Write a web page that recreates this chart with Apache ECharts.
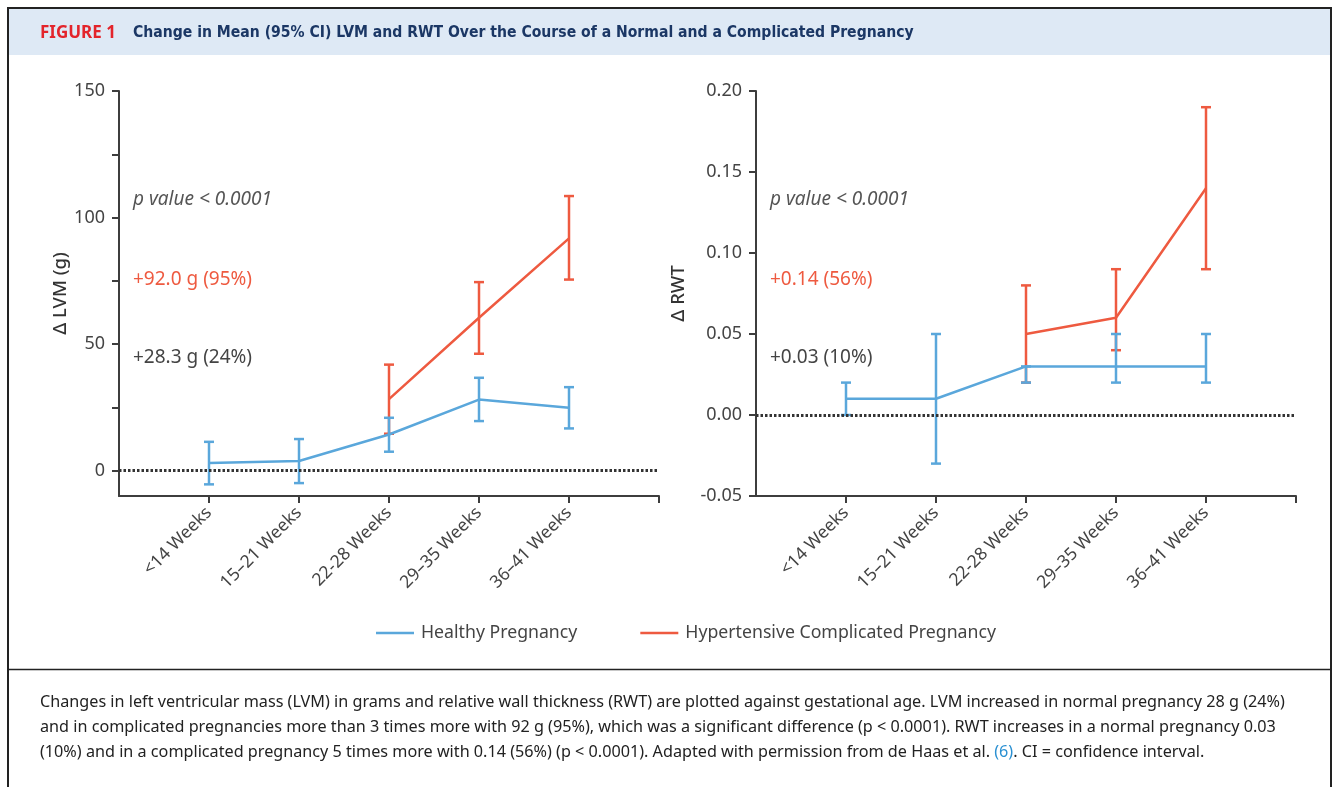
<!DOCTYPE html>
<html><head><meta charset="utf-8">
<script src="https://cdn.jsdelivr.net/npm/echarts@6/dist/echarts.min.js"></script>
<style>html,body{margin:0;padding:0;background:#fff}#c{width:1336px;height:787px}</style>
</head><body><div id="c"></div><script>
// ---- data ----
const categories = ['<14 Weeks', '15–21 Weeks', '22-28 Weeks', '29–35 Weeks', '36–41 Weeks'];
const lvmHealthyMean = [3.0, 3.8, 14.3, 28.1, 24.9];
const lvmHealthyLow  = [-5.4, -4.9, 7.5, 19.6, 16.7];
const lvmHealthyHigh = [11.4, 12.5, 20.9, 36.7, 33.0];
const lvmHyperMean = [null, null, 28.3, 60.4, 91.8];
const lvmHyperLow  = [null, null, 14.6, 46.2, 75.5];
const lvmHyperHigh = [null, null, 41.9, 74.5, 108.5];
const rwtHealthyMean = [0.01, 0.01, 0.03, 0.03, 0.03];
const rwtHealthyLow  = [0.00, -0.03, 0.02, 0.02, 0.02];
const rwtHealthyHigh = [0.02, 0.05, 0.03, 0.05, 0.05];
const rwtHyperMean = [null, null, 0.05, 0.06, 0.14];
const rwtHyperLow  = [null, null, 0.02, 0.04, 0.09];
const rwtHyperHigh = [null, null, 0.08, 0.09, 0.19];
const lvmTickValues = [0, 25, 50, 75, 100, 125, 150];
const lvmLabelValues = [0, 50, 100, 150];
const rwtTickLabels = ['-0.05', '0.00', '0.05', '0.10', '0.15', '0.20'];
const seriesNames = ['Healthy Pregnancy', 'Hypertensive Complicated Pregnancy'];
const annotLeft = ['p value < 0.0001', '+92.0 g (95%)', '+28.3 g (24%)'];
const annotRight = ['p value < 0.0001', '+0.14 (56%)', '+0.03 (10%)'];
const titleTag = 'FIGURE 1';
const titleText = 'Change in Mean (95% CI) LVM and RWT Over the Course of a Normal and a Complicated Pregnancy';
const captionLines = [
  'Changes in left ventricular mass (LVM) in grams and relative wall thickness (RWT) are plotted against gestational age. LVM increased in normal pregnancy 28 g (24%)',
  'and in complicated pregnancies more than 3 times more with 92 g (95%), which was a significant difference (p < 0.0001). RWT increases in a normal pregnancy 0.03',
  ['(10%) and in a complicated pregnancy 5 times more with 0.14 (56%) (p < 0.0001). Adapted with permission from de Haas et al. ', '(6)', '. CI = confidence interval.']
];

// ---- style ----
const BLUE = '#5aa7db', RED = '#ee5a40', AX = '#3d3d3d', TXT = '#444';
const FONT = '"Noto Sans", "Open Sans", sans-serif';

function pts(mean) { const o = []; mean.forEach((v, i) => { if (v !== null) o.push([i + 1, v]); }); return o; }
function errs(lo, hi) { const o = []; lo.forEach((v, i) => { if (v !== null) o.push([i + 1, v, hi[i]]); }); return o; }
function errRender(params, api) {
  const x = api.value(0), lo = api.value(1), hi = api.value(2);
  const a = api.coord([x, lo]), b = api.coord([x, hi]);
  const hw = 5;
  const st = { stroke: api.visual('color'), lineWidth: 2.5 };
  return { type: 'group', children: [
    { type: 'line', shape: { x1: a[0], y1: a[1], x2: b[0], y2: b[1] }, style: st },
    { type: 'line', shape: { x1: a[0] - hw, y1: a[1], x2: a[0] + hw, y2: a[1] }, style: st },
    { type: 'line', shape: { x1: b[0] - hw, y1: b[1], x2: b[0] + hw, y2: b[1] }, style: st }
  ]};
}
function xAxisFor(gi) {
  return {
    type: 'value', gridIndex: gi, min: 0, max: 6, interval: 1,
    axisLine: { show: true, onZero: false, lineStyle: { color: AX, width: 2 } },
    axisTick: { show: true, length: 7, lineStyle: { color: AX, width: 2 }, customValues: [1, 2, 3, 4, 5, 6] },
    axisLabel: { customValues: [1, 2, 3, 4, 5], rotate: 45, margin: 14, color: TXT, fontSize: 17.5, fontFamily: FONT,
      formatter: v => categories[Math.round(v) - 1] || '' },
    splitLine: { show: false }
  };
}
const zeroLine = { silent: true, symbol: 'none', label: { show: false },
  lineStyle: { type: [2.5, 2], color: '#333', width: 3 }, data: [{ yAxis: 0 }] };

const annotY = [200, 280, 358];
const annotColors = ['#555', RED, '#444'];
function annots(list, x) {
  return list.map((t, i) => ({ type: 'text', x: x, y: annotY[i], silent: true,
    style: { text: t, fill: annotColors[i], font: (i === 0 ? 'italic ' : '') + '19px ' + FONT, verticalAlign: 'middle', textVerticalAlign: 'middle' } }));
}

const capY = [702, 727, 752];
const capFont = '16.2px ' + FONT;
const graphics = [
  { type: 'rect', shape: { x: 9, y: 9, width: 1321, height: 46 }, style: { fill: '#dee9f5' }, silent: true },
  { type: 'line', shape: { x1: 7, y1: 8, x2: 1332, y2: 8 }, style: { stroke: '#222', lineWidth: 2 }, silent: true },
  { type: 'line', shape: { x1: 8, y1: 8, x2: 8, y2: 787 }, style: { stroke: '#222', lineWidth: 2 }, silent: true },
  { type: 'line', shape: { x1: 1331, y1: 8, x2: 1331, y2: 787 }, style: { stroke: '#222', lineWidth: 2 }, silent: true },
  { type: 'line', shape: { x1: 8, y1: 669.5, x2: 1331, y2: 669.5 }, style: { stroke: '#222', lineWidth: 1.5 }, silent: true },
  { type: 'text', x: 40, y: 33, silent: true, style: { text: titleTag, fill: '#e3242b', font: 'bold 17px ' + FONT, verticalAlign: 'middle', textVerticalAlign: 'middle' } },
  { type: 'text', x: 133, y: 33, silent: true, style: { text: titleText, fill: '#1b3765', font: 'bold 15.6px "Liberation Sans Narrow", "DejaVu Sans Condensed", sans-serif', verticalAlign: 'middle', textVerticalAlign: 'middle' } }
].concat(annots(annotLeft, 133), annots(annotRight, 770));
captionLines.forEach((ln, i) => {
  if (typeof ln === 'string') {
    graphics.push({ type: 'text', x: 40, y: capY[i], silent: true, style: { text: ln, fill: '#222', font: capFont, verticalAlign: 'middle', textVerticalAlign: 'middle' } });
  } else {
    graphics.push({ type: 'text', x: 40, y: capY[i], silent: true, style: {
      text: '{a|' + ln[0] + '}{b|' + ln[1] + '}{a|' + ln[2] + '}', verticalAlign: 'middle', textVerticalAlign: 'middle',
      rich: { a: { fill: '#222', font: capFont }, b: { fill: '#2a90d2', font: capFont } } } });
  }
});

const chart = echarts.init(document.getElementById('c'));
chart.setOption({
  animation: false,
  backgroundColor: '#fff',
  grid: [
    { left: 119, top: 91, width: 540, height: 405 },
    { left: 756, top: 91, width: 540, height: 405 }
  ],
  xAxis: [xAxisFor(0), xAxisFor(1)],
  yAxis: [
    { type: 'value', gridIndex: 0, min: -10, max: 150,
      name: 'Δ LVM (g)', nameLocation: 'middle', nameGap: 48, nameRotate: 90,
      nameTextStyle: { color: '#333', fontSize: 18.5, fontFamily: FONT, fontWeight: 500 },
      axisLine: { show: true, lineStyle: { color: AX, width: 2 } },
      axisTick: { show: true, length: 7, customValues: lvmTickValues, lineStyle: { color: AX, width: 2 } },
      axisLabel: { customValues: lvmLabelValues, margin: 14, color: TXT, fontSize: 18, fontFamily: FONT },
      splitLine: { show: false } },
    { type: 'value', gridIndex: 1, min: -0.05, max: 0.2, interval: 0.05,
      name: 'Δ RWT', nameLocation: 'middle', nameGap: 68, nameRotate: 90,
      nameTextStyle: { color: '#333', fontSize: 18.5, fontFamily: FONT, fontWeight: 500 },
      axisLine: { show: true, lineStyle: { color: AX, width: 2 } },
      axisTick: { show: true, length: 7, lineStyle: { color: AX, width: 2 } },
      axisLabel: { margin: 14, color: TXT, fontSize: 18, fontFamily: FONT,
        formatter: v => rwtTickLabels[Math.round((v + 0.05) / 0.05)] },
      splitLine: { show: false } }
  ],
  legend: {
    left: 376, top: 624, padding: 0, itemWidth: 38, itemHeight: 2.5, itemGap: 63, icon: 'rect',
    textStyle: { color: TXT, fontSize: 17.7, fontFamily: FONT, padding: [0, 0, 0, 2] },
    data: [
      { name: seriesNames[0], itemStyle: { color: BLUE } },
      { name: seriesNames[1], itemStyle: { color: RED } }
    ]
  },
  graphic: graphics,
  series: [
    { type: 'custom', name: 'lvmHyperErr', xAxisIndex: 0, yAxisIndex: 0, itemStyle: { color: RED }, renderItem: errRender, data: errs(lvmHyperLow, lvmHyperHigh), encode: { x: 0, y: [1, 2] }, z: 3 },
    { type: 'line', name: seriesNames[1], xAxisIndex: 0, yAxisIndex: 0, data: pts(lvmHyperMean), symbol: 'none', color: RED, lineStyle: { width: 2.5, color: RED }, z: 3 },
    { type: 'custom', name: 'lvmHealthyErr', xAxisIndex: 0, yAxisIndex: 0, itemStyle: { color: BLUE }, renderItem: errRender, data: errs(lvmHealthyLow, lvmHealthyHigh), encode: { x: 0, y: [1, 2] }, z: 4 },
    { type: 'line', name: seriesNames[0], xAxisIndex: 0, yAxisIndex: 0, data: pts(lvmHealthyMean), symbol: 'none', color: BLUE, lineStyle: { width: 2.5, color: BLUE }, markLine: zeroLine, z: 4 },
    { type: 'custom', name: 'rwtHyperErr', xAxisIndex: 1, yAxisIndex: 1, itemStyle: { color: RED }, renderItem: errRender, data: errs(rwtHyperLow, rwtHyperHigh), encode: { x: 0, y: [1, 2] }, z: 3 },
    { type: 'line', name: seriesNames[1], xAxisIndex: 1, yAxisIndex: 1, data: pts(rwtHyperMean), symbol: 'none', color: RED, lineStyle: { width: 2.5, color: RED }, z: 3 },
    { type: 'custom', name: 'rwtHealthyErr', xAxisIndex: 1, yAxisIndex: 1, itemStyle: { color: BLUE }, renderItem: errRender, data: errs(rwtHealthyLow, rwtHealthyHigh), encode: { x: 0, y: [1, 2] }, z: 4 },
    { type: 'line', name: seriesNames[0], xAxisIndex: 1, yAxisIndex: 1, data: pts(rwtHealthyMean), symbol: 'none', color: BLUE, lineStyle: { width: 2.5, color: BLUE }, markLine: zeroLine, z: 4 }
  ]
});
</script></body></html>
